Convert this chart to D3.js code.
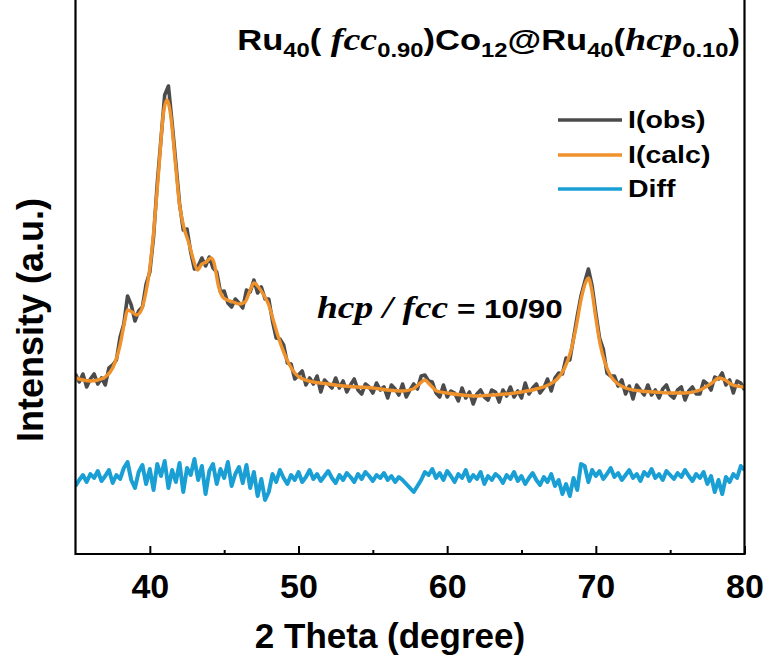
<!DOCTYPE html>
<html><head><meta charset="utf-8">
<script src="https://cdn.jsdelivr.net/npm/d3@7"></script>
<style>
html,body{margin:0;padding:0;background:#fff;}
svg{display:block;}
</style></head>
<body>
<script>
// ---- data ----
const thetaStart = 35, thetaStep = 0.25;   // sampling grid of observed pattern
const obsI = [
180,172,180,167,175,180,170,176,169,186,
189,194,217,230,258,249,233,243,247,270,
282,317,371,415,459,468,431,391,350,324,
325,302,285,288,296,288,297,286,282,262,
263,251,247,255,251,246,264,262,274,261,
267,255,255,233,216,215,209,191,190,175,
179,183,169,176,170,178,162,174,170,166,
176,166,173,162,169,175,164,160,170,167,
161,171,164,167,156,169,165,159,170,157,
164,170,165,178,179,173,172,161,157,169,
157,163,161,153,166,156,162,150,160,164,
157,154,164,162,152,164,158,167,157,163,
156,171,160,166,170,161,166,175,163,176,
181,180,196,194,216,238,258,272,285,268,
241,216,205,181,178,178,168,174,160,168,
155,169,164,159,169,159,164,156,165,169,
159,156,164,167,154,163,167,160,160,173,
170,164,177,175,181,169,174,161,173,171,164];
const diffI = [
68,74,79,72,80,76,83,73,78,84,
71,79,75,86,92,74,66,82,89,70,
85,64,90,78,93,66,84,72,91,62,
86,79,95,74,88,60,83,90,70,85,
76,92,68,80,87,71,89,66,82,58,
75,54,62,80,72,84,76,70,79,74,
82,72,77,84,75,80,73,78,83,76,
71,79,74,81,77,72,80,75,82,78,
73,79,76,81,74,78,72,77,74,70,
66,62,68,74,82,79,85,76,81,74,
83,78,72,80,76,84,73,79,75,82,
70,78,74,80,77,71,79,75,82,73,
78,70,76,81,74,69,77,72,80,68,
74,60,70,58,76,64,90,88,72,84,
78,83,75,80,86,77,81,74,79,84,
76,80,73,82,78,85,76,80,74,83,
79,75,81,77,84,78,73,80,76,82,
70,78,62,74,60,77,72,80,76,88,84];
const calcTheta = [35,35.5,36,36.5,37,37.5,38,38.3,38.5,38.8,39.1,39.4,39.7,40,40.3,40.6,40.9,41.15,41.4,41.7,42,42.3,42.6,42.9,43.2,43.5,43.8,44.1,44.3,44.6,44.9,45.2,45.6,46,46.4,46.7,47,47.3,47.7,48,48.3,48.6,49,49.4,49.8,50.3,51,52,53,54,55,56,57,57.7,58.2,58.5,58.8,59.3,60,61,62,63,64,65,66,66.8,67.4,67.9,68.3,68.7,69,69.3,69.5,69.7,70,70.3,70.6,71,71.5,72,73,74,75,76,77,77.8,78.3,78.7,79.2,80];
const calcI = [176,174,173,174,177,186,209,232,244,242,239,243,259,286,329,384,439,454,439,394,349,326,312,296,284,290,292,296,292,269,257,254,252,250,252,262,271,267,258,249,234,219,202,189,180,175,172,170,168,167,166,164,163,165,171,174,170,163,161,159,158,159,160,162,165,169,175,186,202,229,254,271,276,266,236,209,192,178,170,166,163,162,161,161,164,171,176,174,169,167];
const majorTicks = [40,50,60,70,80];
const minorTicks = [45,55,65,75];
const legendLabels = ["I(obs)","I(calc)","Diff"];
const colors = {obs:"#4b4b4b", calc:"#f0922b", diff:"#1a9fd5"};

// ---- layout ----
const W = 769, H = 658;
const m = {left:75.5, right:744.5, top:0, bottom:554};
const svg = d3.select("body").append("svg").attr("width",W).attr("height",H);
const x = d3.scaleLinear().domain([35,80]).range([m.left,m.right]);
const y = d3.scaleLinear().domain([0,554]).range([m.bottom,m.top]);

const obs = obsI.map((v,i)=>({t:thetaStart+i*thetaStep, v}));
const diff = diffI.map((v,i)=>({t:thetaStart+i*thetaStep, v}));
const calc = calcTheta.map((t,i)=>({t, v:calcI[i]}));

svg.append("defs").append("clipPath").attr("id","clip")
  .append("rect").attr("x",m.left).attr("y",0).attr("width",m.right-m.left).attr("height",m.bottom);

const line = d3.line().x(d=>x(d.t)).y(d=>y(d.v));
const plot = svg.append("g").attr("clip-path","url(#clip)");
plot.append("path").datum(obs).attr("d",line).attr("fill","none")
  .attr("stroke",colors.obs).attr("stroke-width",3.6).attr("stroke-linejoin","round");
plot.append("path").datum(calc).attr("d",d3.line().x(d=>x(d.t)).y(d=>y(d.v)).curve(d3.curveMonotoneX)).attr("fill","none")
  .attr("stroke",colors.calc).attr("stroke-width",3.4).attr("stroke-linejoin","round");
plot.append("path").datum(diff).attr("d",line).attr("fill","none")
  .attr("stroke",colors.diff).attr("stroke-width",4).attr("stroke-linejoin","round");

// axes
const sans = "'Liberation Sans',Arial,sans-serif", serif = "'Liberation Serif','Times New Roman',serif";
const ax = svg.append("g").attr("transform",`translate(0,${m.bottom})`)
  .call(d3.axisBottom(x).tickValues(majorTicks).tickSize(-8).tickPadding(20).tickFormat(d3.format("d")));
ax.select(".domain").remove();
ax.selectAll(".tick line").attr("stroke","#000").attr("stroke-width",2);
ax.selectAll(".tick text").attr("font-family",sans)
  .attr("font-weight","bold").attr("font-size",34).attr("fill","#000").attr("dy","0.71em");
const axm = svg.append("g").attr("transform",`translate(0,${m.bottom})`)
  .call(d3.axisBottom(x).tickValues(minorTicks).tickSize(-4).tickFormat(""));
axm.select(".domain").remove();
axm.selectAll(".tick line").attr("stroke","#000").attr("stroke-width",2);

// frame (left, right, bottom)
svg.append("path").attr("d",`M${m.left},0V${m.bottom}H${m.right}V0`)
  .attr("fill","none").attr("stroke","#000").attr("stroke-width",2.2);

// axis titles
svg.append("text").attr("x",390).attr("y",648).attr("text-anchor","middle")
  .attr("font-family",sans).attr("font-weight","bold").attr("font-size",35)
  .text("2 Theta (degree)");
svg.append("text").attr("transform","translate(43,320) rotate(-90)").attr("text-anchor","middle")
  .attr("font-family",sans).attr("font-weight","bold").attr("font-size",36)
  .text("Intensity (a.u.)");

// title
const title = svg.append("text").attr("transform","translate(740,50) scale(1.19,1)").attr("text-anchor","end")
  .attr("font-family",sans).attr("font-weight","bold").attr("font-size",29).attr("fill","#000");
const parts = [
 ["Ru",0,29,sans,"normal"],["40",7,20,sans,"normal"],["( ",-7,29,sans,"normal"],
 ["fcc",0,32,serif,"italic"],["0.90",7,20,sans,"normal"],[")",-7,29,sans,"normal"],
 ["Co",0,29,sans,"normal"],["12",7,20,sans,"normal"],["@Ru",-7,29,sans,"normal"],
 ["40",7,20,sans,"normal"],["(",-7,29,sans,"normal"],["hcp",0,32,serif,"italic"],
 ["0.10",7,20,sans,"normal"],[")",-7,29,sans,"normal"]];
parts.forEach(p=>title.append("tspan").attr("dy",p[1]).attr("font-size",p[2])
  .attr("font-family",p[3]).attr("font-style",p[4]).text(p[0]));

// annotation
const ann = svg.append("text").attr("transform","translate(317,318) scale(1.21,1)").attr("font-weight","bold").attr("fill","#000");
ann.append("tspan").attr("font-family",serif).attr("font-style","italic").attr("font-size",31).text("hcp / fcc");
ann.append("tspan").attr("font-family",sans).attr("font-size",26).text(" = 10/90");

// legend
const legY = [120,155,189];
const legC = [colors.obs, colors.calc, colors.diff];
legendLabels.forEach((lab,i)=>{
  svg.append("line").attr("x1",558).attr("x2",622).attr("y1",legY[i]).attr("y2",legY[i])
    .attr("stroke",legC[i]).attr("stroke-width",3.4);
  svg.append("text").attr("transform",`translate(628,${legY[i]+8}) scale(1.24,1)`).attr("font-family",sans)
    .attr("font-weight","bold").attr("font-size",23).text(lab);
});
</script>
</body></html>
